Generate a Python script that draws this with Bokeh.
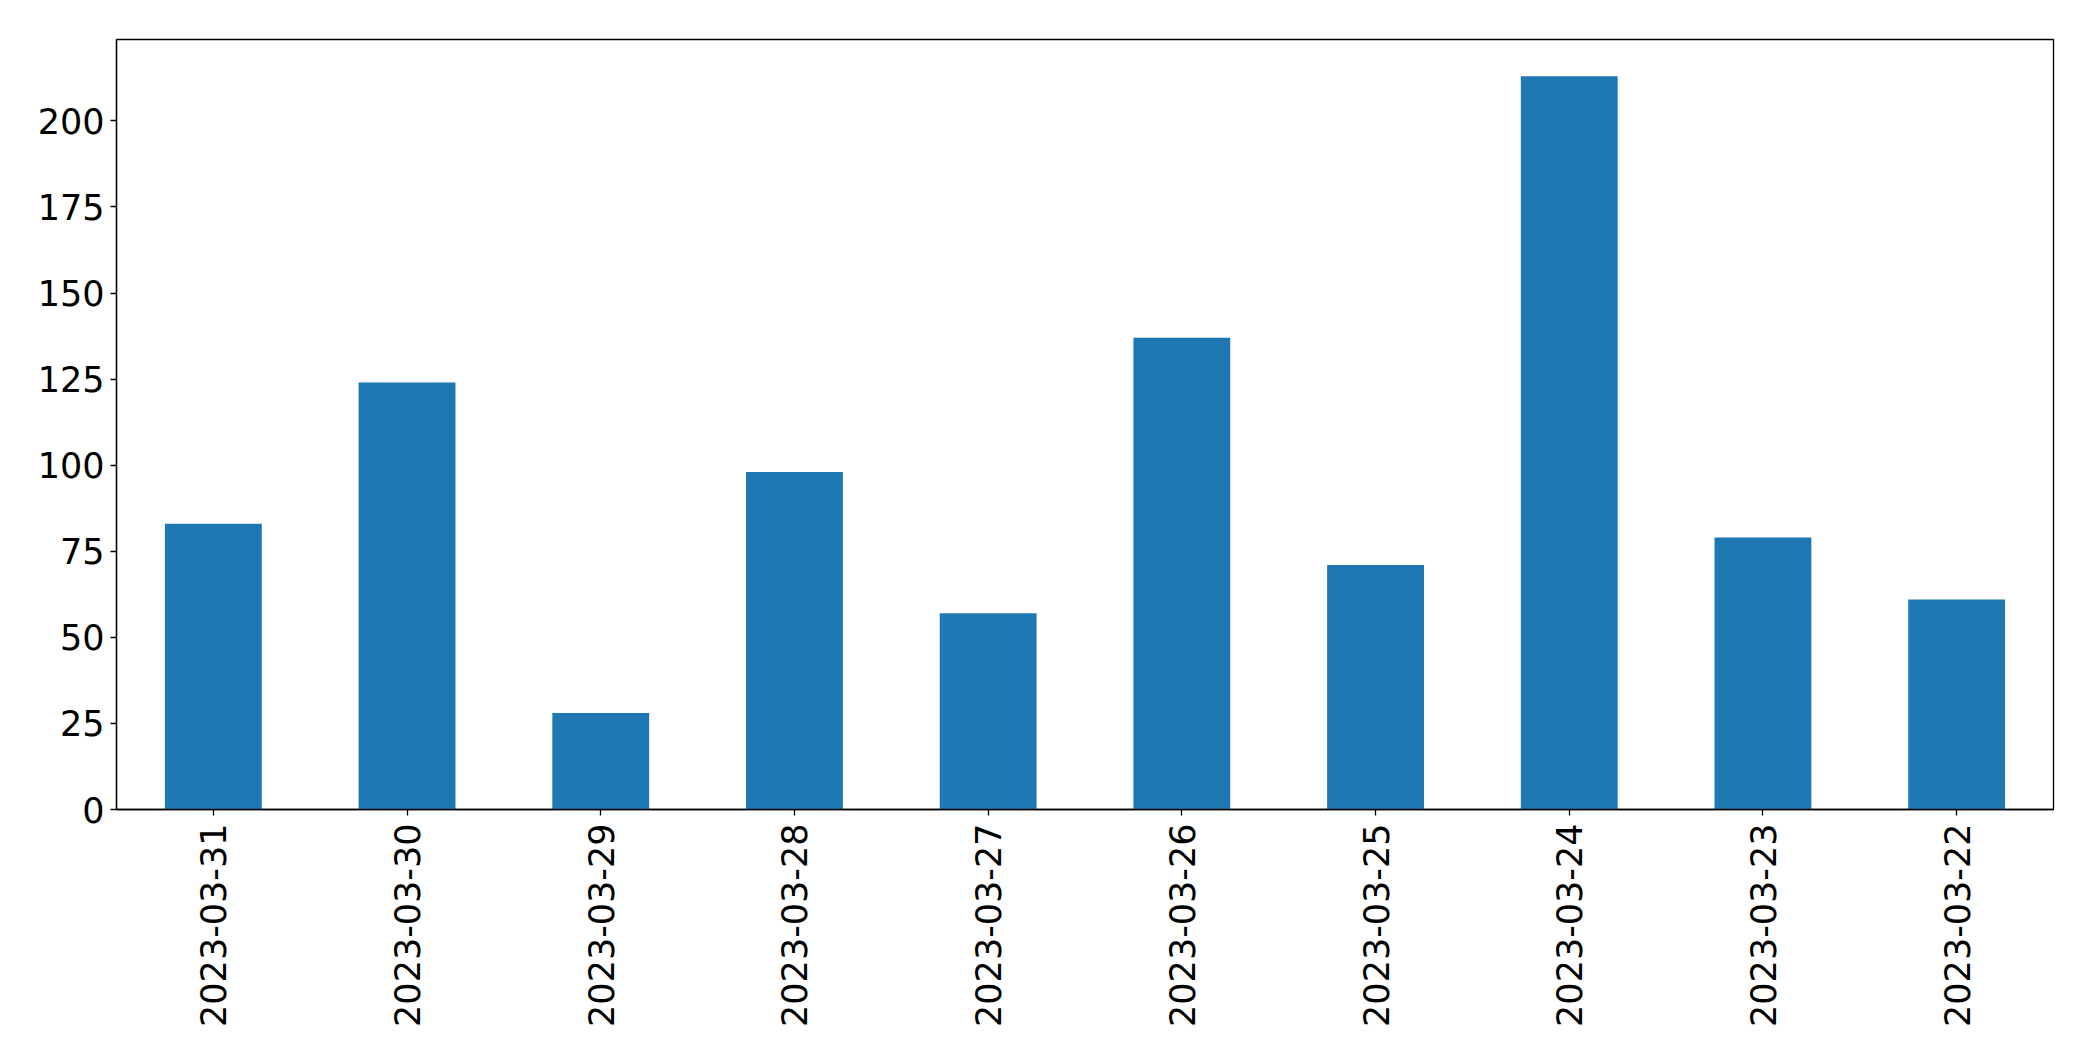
import math
from bokeh.plotting import figure
from bokeh.models import Range1d, FixedTicker, ColumnDataSource
from bokeh.embed import file_html
from bokeh.resources import INLINE

dates = ["2023-03-31", "2023-03-30", "2023-03-29", "2023-03-28", "2023-03-27",
         "2023-03-26", "2023-03-25", "2023-03-24", "2023-03-23", "2023-03-22"]
counts = [83, 124, 28, 98, 57, 137, 71, 213, 79, 61]
y_ticks = [0, 25, 50, 75, 100, 125, 150, 175, 200]

source = ColumnDataSource(data=dict(date=dates, count=counts))

p = figure(
    x_range=dates,
    y_range=Range1d(0, max(counts) * 1.05),
    width=2077, height=1045,
    output_backend="svg", toolbar_location=None,
    min_border_left=116, min_border_right=24,
    min_border_top=39, min_border_bottom=236,
)
p.x_range.range_padding = 0

p.vbar(x="date", top="count", width=0.5, source=source,
       fill_color="#1f77b4", line_color=None)

p.xgrid.visible = False
p.ygrid.visible = False
p.outline_line_color = "black"
p.outline_line_width = 1.3
p.background_fill_color = "white"
p.border_fill_color = "white"

p.yaxis.ticker = FixedTicker(ticks=y_ticks)
for ax in (p.xaxis[0], p.yaxis[0]):
    ax.major_label_text_font = "DejaVu Sans"
    ax.major_label_text_font_size = "35px"
    ax.major_label_text_color = "black"
    ax.axis_line_color = "black"
    ax.axis_line_width = 1.3
    ax.major_tick_line_color = "black"
    ax.major_tick_line_width = 1.3
    ax.major_tick_out = 6
    ax.major_tick_in = 0
    ax.minor_tick_line_color = None

p.yaxis.major_label_standoff = 6
p.xaxis.major_label_standoff = 8
p.xaxis.major_label_orientation = math.pi / 2

open("out.html", "w").write(file_html(p, INLINE))
